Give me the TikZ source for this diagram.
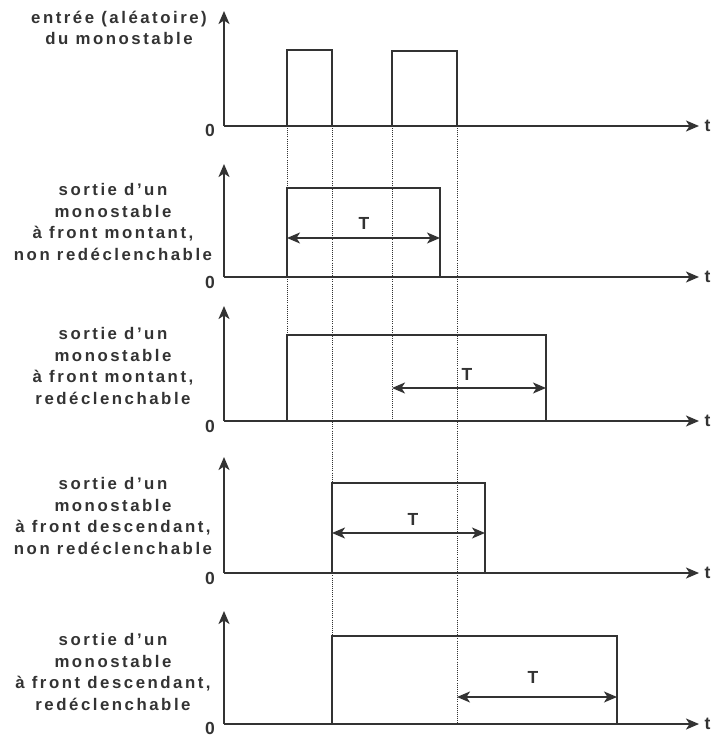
\documentclass[tikz,border=0pt]{standalone}
\usepackage{fontspec}
\setmainfont{Liberation Sans}[LetterSpace=15, Ligatures=ResetAll]
\usetikzlibrary{arrows.meta}
\definecolor{ink}{HTML}{333333}
\newcommand{\apos}{\char"0027\relax}
\tikzset{
  axis/.style={draw=ink, line width=1.9pt, -{Stealth[length=13pt,width=11pt,inset=3.5pt]}},
  sig/.style={draw=ink, line width=1.7pt},
  dur/.style={draw=ink, line width=1.6pt, {Stealth[length=13pt,width=11pt,inset=3.5pt]}-{Stealth[length=13pt,width=11pt,inset=3.5pt]}},
  guide/.style={draw=ink, line width=1pt, dash pattern=on 1pt off 1.1pt},
  lbl/.style={text=ink, font=\fontsize{16.8}{21.5}\selectfont\bfseries, align=center},
  tl/.style={text=ink, font=\fontsize{17.5}{18}\selectfont\bfseries},
}
\begin{document}
\begin{tikzpicture}[x=1pt,y=-1pt]
\useasboundingbox (0,0) rectangle (712,738);
% guides
\coordinate (g1a) at (287,126); \coordinate (g1b) at (287,335);
\coordinate (g2a) at (332,126); \coordinate (g2b) at (332,636);
\coordinate (g3a) at (392,126); \coordinate (g3b) at (392,421);
\coordinate (g4a) at (457,126); \coordinate (g4b) at (457,724);
\draw[guide] (g1a) -- (g1b);
\draw[guide] (g2a) -- (g2b);
\draw[guide] (g3a) -- (g3b);
\draw[guide] (g4a) -- (g4b);
% panel 1
\coordinate (o1) at (224,126); \coordinate (y1) at (224,11); \coordinate (x1) at (699,126);
\draw[axis] (o1) -- (y1);
\draw[axis] (o1) -- (x1);
\node[tl] (z1) at (210,130) {0};
\node[tl, anchor=west] (t1) at (701,126) {t};
\node[lbl] (l1) at (119,28) {entrée (aléatoire)\\du monostable};
\draw[sig] (287,126) -- (287,50) -- (332,50) -- (332,126);
\draw[sig] (392,126) -- (392,51) -- (457,51) -- (457,126);
% panel 2
\coordinate (o2) at (224,277); \coordinate (y2) at (224,164); \coordinate (x2) at (699,277);
\draw[axis] (o2) -- (y2);
\draw[axis] (o2) -- (x2);
\node[tl] (z2) at (210,282) {0};
\node[tl, anchor=west] (t2) at (701,277) {t};
\node[lbl] (l2) at (113,222) {sortie d\apos un\\monostable\\à front montant,\\non redéclenchable};
\draw[sig] (287,277) -- (287,188) -- (440,188) -- (440,277);
\coordinate (a2) at (287,238); \coordinate (b2) at (440,238);
\draw[dur] (a2) -- (b2);
\node[tl] (T2) at (364,223) {T};
% panel 3
\coordinate (o3) at (224,421); \coordinate (y3) at (224,306); \coordinate (x3) at (699,421);
\draw[axis] (o3) -- (y3);
\draw[axis] (o3) -- (x3);
\node[tl] (z3) at (210,426) {0};
\node[tl, anchor=west] (t3) at (701,421) {t};
\node[lbl] (l3) at (113,366) {sortie d\apos un\\monostable\\à front montant,\\redéclenchable};
\draw[sig] (287,421) -- (287,335) -- (546,335) -- (546,421);
\coordinate (a3) at (392,388); \coordinate (b3) at (546,388);
\draw[dur] (a3) -- (b3);
\node[tl] (T3) at (467,374) {T};
% panel 4
\coordinate (o4) at (224,573); \coordinate (y4) at (224,457); \coordinate (x4) at (699,573);
\draw[axis] (o4) -- (y4);
\draw[axis] (o4) -- (x4);
\node[tl] (z4) at (210,578) {0};
\node[tl, anchor=west] (t4) at (701,573) {t};
\node[lbl] (l4) at (113,516) {sortie d\apos un\\monostable\\à front descendant,\\non redéclenchable};
\draw[sig] (332,573) -- (332,483) -- (485,483) -- (485,573);
\coordinate (a4) at (332,533); \coordinate (b4) at (485,533);
\draw[dur] (a4) -- (b4);
\node[tl] (T4) at (413,519) {T};
% panel 5
\coordinate (o5) at (224,724); \coordinate (y5) at (224,611); \coordinate (x5) at (699,724);
\draw[axis] (o5) -- (y5);
\draw[axis] (o5) -- (x5);
\node[tl] (z5) at (210,728) {0};
\node[tl, anchor=west] (t5) at (701,724) {t};
\node[lbl] (l5) at (113,672) {sortie d\apos un\\monostable\\à front descendant,\\redéclenchable};
\draw[sig] (332,724) -- (332,636) -- (617,636) -- (617,724);
\coordinate (a5) at (457,697); \coordinate (b5) at (617,697);
\draw[dur] (a5) -- (b5);
\node[tl] (T5) at (533,677) {T};
\end{tikzpicture}
\end{document}
